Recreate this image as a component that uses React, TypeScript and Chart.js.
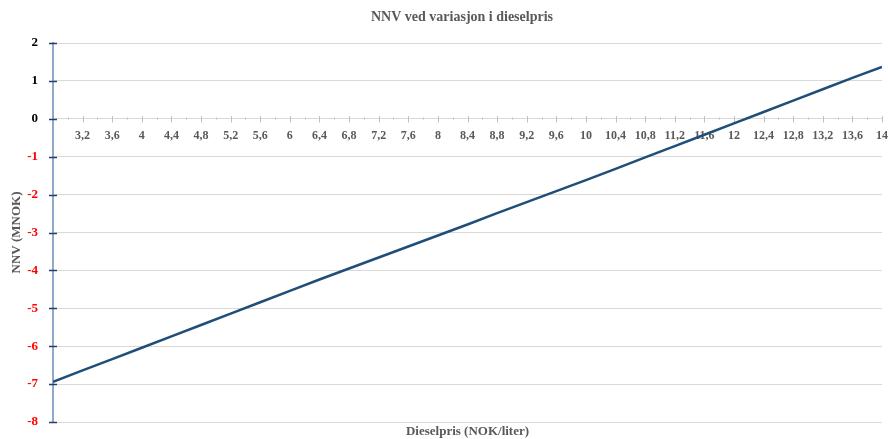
import { useEffect, useRef } from "react";
import { Chart, registerables } from "chart.js";

Chart.register(...registerables);

// Diesel price (NOK/liter) and the resulting net present value (MNOK)
const dieselPrices = [
  2.8, 3.2, 3.6, 4.0, 4.4, 4.8, 5.2, 5.6, 6.0, 6.4, 6.8, 7.2, 7.6, 8.0, 8.4,
  8.8, 9.2, 9.6, 10.0, 10.4, 10.8, 11.2, 11.6, 12.0, 12.4, 12.8, 13.2, 13.6, 14.0,
];
const npvValues = [
  -6.94, -6.64, -6.34, -6.04, -5.74, -5.44, -5.14, -4.84, -4.54, -4.24, -3.95,
  -3.66, -3.37, -3.08, -2.79, -2.49, -2.2, -1.91, -1.62, -1.32, -1.02, -0.72,
  -0.42, -0.12, 0.18, 0.48, 0.78, 1.08, 1.37,
];

const chartTitle = "NNV ved variasjon i dieselpris";
const xAxisTitle = "Dieselpris (NOK/liter)";
const yAxisTitle = "NNV (MNOK)";

const xMin = 2.8;
const xMax = 14;
const xMajorStep = 0.4;
const xMinorStep = 0.2;
const yMin = -8;
const yMax = 2;

const SERIF = '"Liberation Serif", "Times New Roman", serif';
const GREY_TEXT = "#595959";

// Keep tick labels from pushing the plot area inwards.
const noLabelPadding = (scale: any) => {
  scale.paddingLeft = 0;
  scale.paddingRight = 0;
  scale.paddingTop = 0;
  scale.paddingBottom = 0;
};

// Tick marks that cross the axes (major + minor on x), plus the chart titles.
const decorations = {
  id: "decorations",
  beforeDatasetsDraw(chart: any) {
    const { ctx, chartArea, scales } = chart;
    const xs = scales.x;
    const ys = scales.y;
    ctx.save();

    // y axis tick marks
    ctx.strokeStyle = "#1F3F6E";
    ctx.lineWidth = 1.5;
    for (let v = yMin; v <= yMax; v++) {
      const py = Math.round(ys.getPixelForValue(v)) + 0.5;
      ctx.beginPath();
      ctx.moveTo(chartArea.left - 4, py);
      ctx.lineTo(chartArea.left + 4, py);
      ctx.stroke();
    }

    // x axis tick marks along the zero line
    const y0 = Math.round(ys.getPixelForValue(0)) + 0.5;
    ctx.strokeStyle = "#BFBFBF";
    ctx.lineWidth = 1;
    const n = Math.round((xMax - xMin) / xMinorStep);
    for (let i = 1; i <= n; i++) {
      const v = xMin + i * xMinorStep;
      const px = Math.round(xs.getPixelForValue(v)) + 0.5;
      const major = i % Math.round(xMajorStep / xMinorStep) === 0;
      ctx.beginPath();
      if (major) {
        ctx.moveTo(px, y0 - 3.5);
        ctx.lineTo(px, y0 + 3);
      } else {
        ctx.moveTo(px, y0 - 2);
        ctx.lineTo(px, y0);
      }
      ctx.stroke();
    }
    ctx.restore();
  },
  afterDraw(chart: any) {
    const { ctx, chartArea } = chart;
    ctx.save();
    ctx.fillStyle = GREY_TEXT;
    ctx.textAlign = "center";
    ctx.textBaseline = "middle";

    ctx.font = `bold 14px ${SERIF}`;
    ctx.fillText(chartTitle, 462, 17);

    ctx.font = `bold 13px ${SERIF}`;
    ctx.fillText(xAxisTitle, (chartArea.left + chartArea.right) / 2, 432);

    ctx.translate(17, (chartArea.top + chartArea.bottom) / 2);
    ctx.rotate(-Math.PI / 2);
    ctx.fillText(yAxisTitle, 0, 0);
    ctx.restore();
  },
};

export default function App() {
  const canvasRef = useRef<HTMLCanvasElement | null>(null);

  useEffect(() => {
    const canvas = canvasRef.current;
    if (!canvas) return;

    const chart = new Chart(canvas, {
      type: "line",
      data: {
        datasets: [
          {
            label: yAxisTitle,
            data: dieselPrices.map((x, i) => ({ x, y: npvValues[i] })),
            borderColor: "#1F4E79",
            borderWidth: 2.5,
            pointRadius: 0,
            tension: 0,
          },
        ],
      },
      options: {
        animation: false,
        responsive: false,
        devicePixelRatio: 1,
        layout: { padding: { top: 43, right: 6, bottom: 17, left: 0 } },
        plugins: {
          legend: { display: false },
          title: { display: false },
          tooltip: { enabled: false },
        },
        scales: {
          x: {
            type: "linear",
            position: { y: 0 },
            min: xMin,
            max: xMax,
            afterFit: noLabelPadding,
            grid: { display: false, drawTicks: false },
            border: { display: true, color: "#D9D9D9", width: 1 },
            ticks: {
              stepSize: xMajorStep,
              autoSkip: false,
              maxRotation: 0,
              padding: 10,
              color: GREY_TEXT,
              font: { family: SERIF, size: 12, weight: "bold" },
              callback: (value: any) => {
                const v = Math.round(Number(value) * 10) / 10;
                if (v <= xMin) return "";
                return String(v).replace(".", ",");
              },
            },
          },
          y: {
            min: yMin,
            max: yMax,
            afterFit: (scale: any) => {
              scale.width = 53;
              noLabelPadding(scale);
            },
            grid: { color: "#D9D9D9", lineWidth: 1, drawTicks: false },
            border: { display: true, color: "#8FA9CC", width: 2 },
            ticks: {
              stepSize: 1,
              padding: 15,
              font: { family: SERIF, size: 13, weight: "bold" },
              color: (ctx: any) => (ctx.tick && ctx.tick.value < 0 ? "#FF0000" : "#000000"),
            },
          },
        },
      },
      plugins: [decorations],
    });

    return () => chart.destroy();
  }, []);

  return (
    <div style={{ position: "fixed", left: 0, top: 0, width: 888, height: 439, background: "#ffffff" }}>
      <canvas ref={canvasRef} width={888} height={439} style={{ width: 888, height: 439 }} />
    </div>
  );
}
